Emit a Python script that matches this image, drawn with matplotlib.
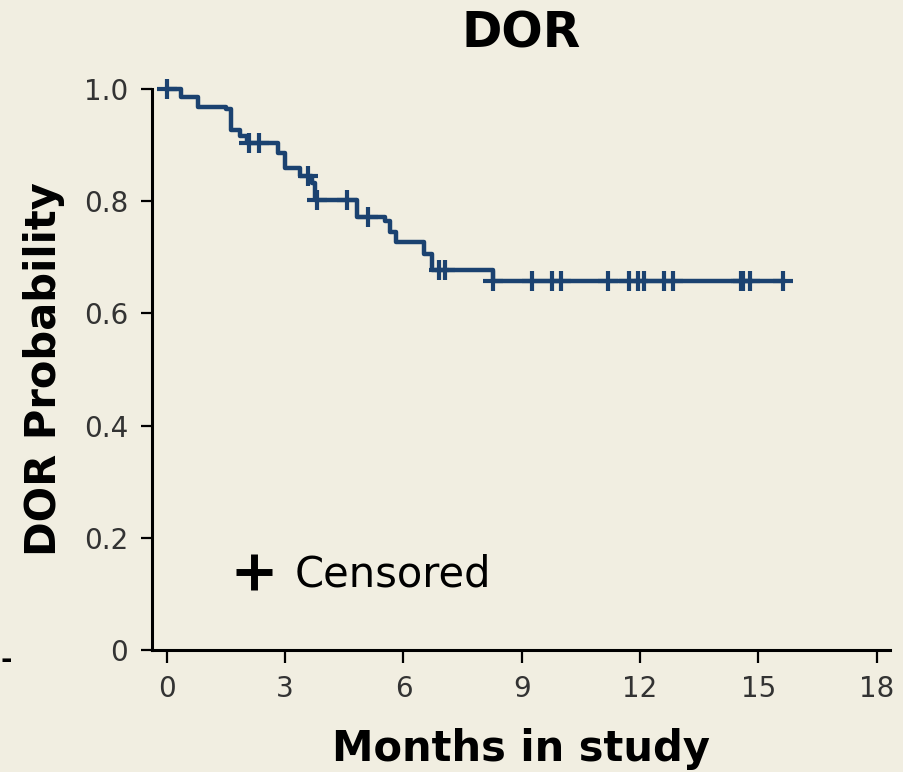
"""Kaplan-Meier style DOR curve with censor marks."""

import matplotlib

matplotlib.use("Agg")
import matplotlib.pyplot as plt
import numpy as np
from matplotlib.lines import Line2D

# Event times (months) and survival level after each event
EVENT_TIMES = [0.37, 0.78, 1.50, 1.62, 1.85, 2.02, 2.81, 2.99, 3.38,
               3.67, 3.76, 4.81, 5.53, 5.66, 5.80, 6.53, 6.72, 8.28]
SURVIVAL = [0.985, 0.968, 0.964, 0.926, 0.916, 0.904, 0.886, 0.858, 0.844,
            0.832, 0.801, 0.772, 0.764, 0.745, 0.727, 0.705, 0.677, 0.658]

# Censored observations (months)
CENSOR_TIMES = [0.0, 2.08, 2.33, 3.59, 3.82, 4.58, 5.09, 6.91, 7.06, 8.28,
                9.25, 9.76, 9.99, 11.20, 11.71, 11.94, 12.11, 12.61, 12.83,
                14.56, 14.62, 14.78, 15.62]

X_TICKS = [0, 3, 6, 9, 12, 15, 18]
Y_TICKS = [0, 0.2, 0.4, 0.6, 0.8, 1.0]
Y_TICK_LABELS = ["0", "0.2", "0.4", "0.6", "0.8", "1.0"]

BG = "#F1EEE1"
LINE_COLOR = "#1B4270"

plt.rcParams["font.family"] = ["DejaVu Sans"]

fig = plt.figure(figsize=(9.04, 7.72), dpi=100)
fig.patch.set_facecolor(BG)
ax = fig.add_axes([0.168, 0.158, 0.817, 0.727])
ax.set_facecolor(BG)

# step curve: start at 1.0, follow events, run out to last censor
t_all = np.concatenate([[0.0], EVENT_TIMES, [max(CENSOR_TIMES)]])
s_all = np.concatenate([[1.0], SURVIVAL, [SURVIVAL[-1]]])
ax.step(t_all, s_all, where="post", color=LINE_COLOR, lw=3.2,
        clip_on=False, zorder=3)

# censor marks sit on the curve level at their time
idx = np.searchsorted(t_all, CENSOR_TIMES, side="right") - 1
ax.plot(CENSOR_TIMES, s_all[idx], linestyle="none", marker="+",
        markersize=15, markeredgewidth=3.0, color=LINE_COLOR,
        clip_on=False, zorder=4)

ax.set_xlim(-0.38, 18.35)
ax.set_ylim(0, 1.0)
ax.set_xticks(X_TICKS)
ax.set_yticks(Y_TICKS)
ax.set_yticklabels(Y_TICK_LABELS)

for side in ("top", "right"):
    ax.spines[side].set_visible(False)
for side in ("left", "bottom"):
    ax.spines[side].set_linewidth(2.2)

ax.tick_params(axis="x", direction="out", length=9, width=1.6,
               labelsize=20, labelcolor="#333333", pad=9)
ax.tick_params(axis="y", direction="out", length=8, width=1.6,
               labelsize=20, labelcolor="#333333", pad=9)

ax.set_xlabel("Months in study", fontsize=30, fontweight="bold", labelpad=18)
ax.set_ylabel("DOR Probability", fontsize=30, fontweight="bold", labelpad=14)
ax.set_title("DOR", fontsize=35, fontweight="bold", pad=30)

handle = Line2D([], [], linestyle="none", marker="+", markersize=26,
                markeredgewidth=5, color="black")
ax.legend([handle], ["Censored"], loc="center left",
          bbox_to_anchor=(0.104, 0.135), frameon=False, fontsize=30,
          borderpad=0, borderaxespad=0, handlelength=1.2,
          handletextpad=0.38)

# small stray mark at the far left of the source image
fig.text(0.0, 1 - 660 / 772, "-", fontsize=20, fontweight="bold",
         color="black", ha="left", va="center")

fig.savefig("out.png", dpi=100, facecolor=BG)
